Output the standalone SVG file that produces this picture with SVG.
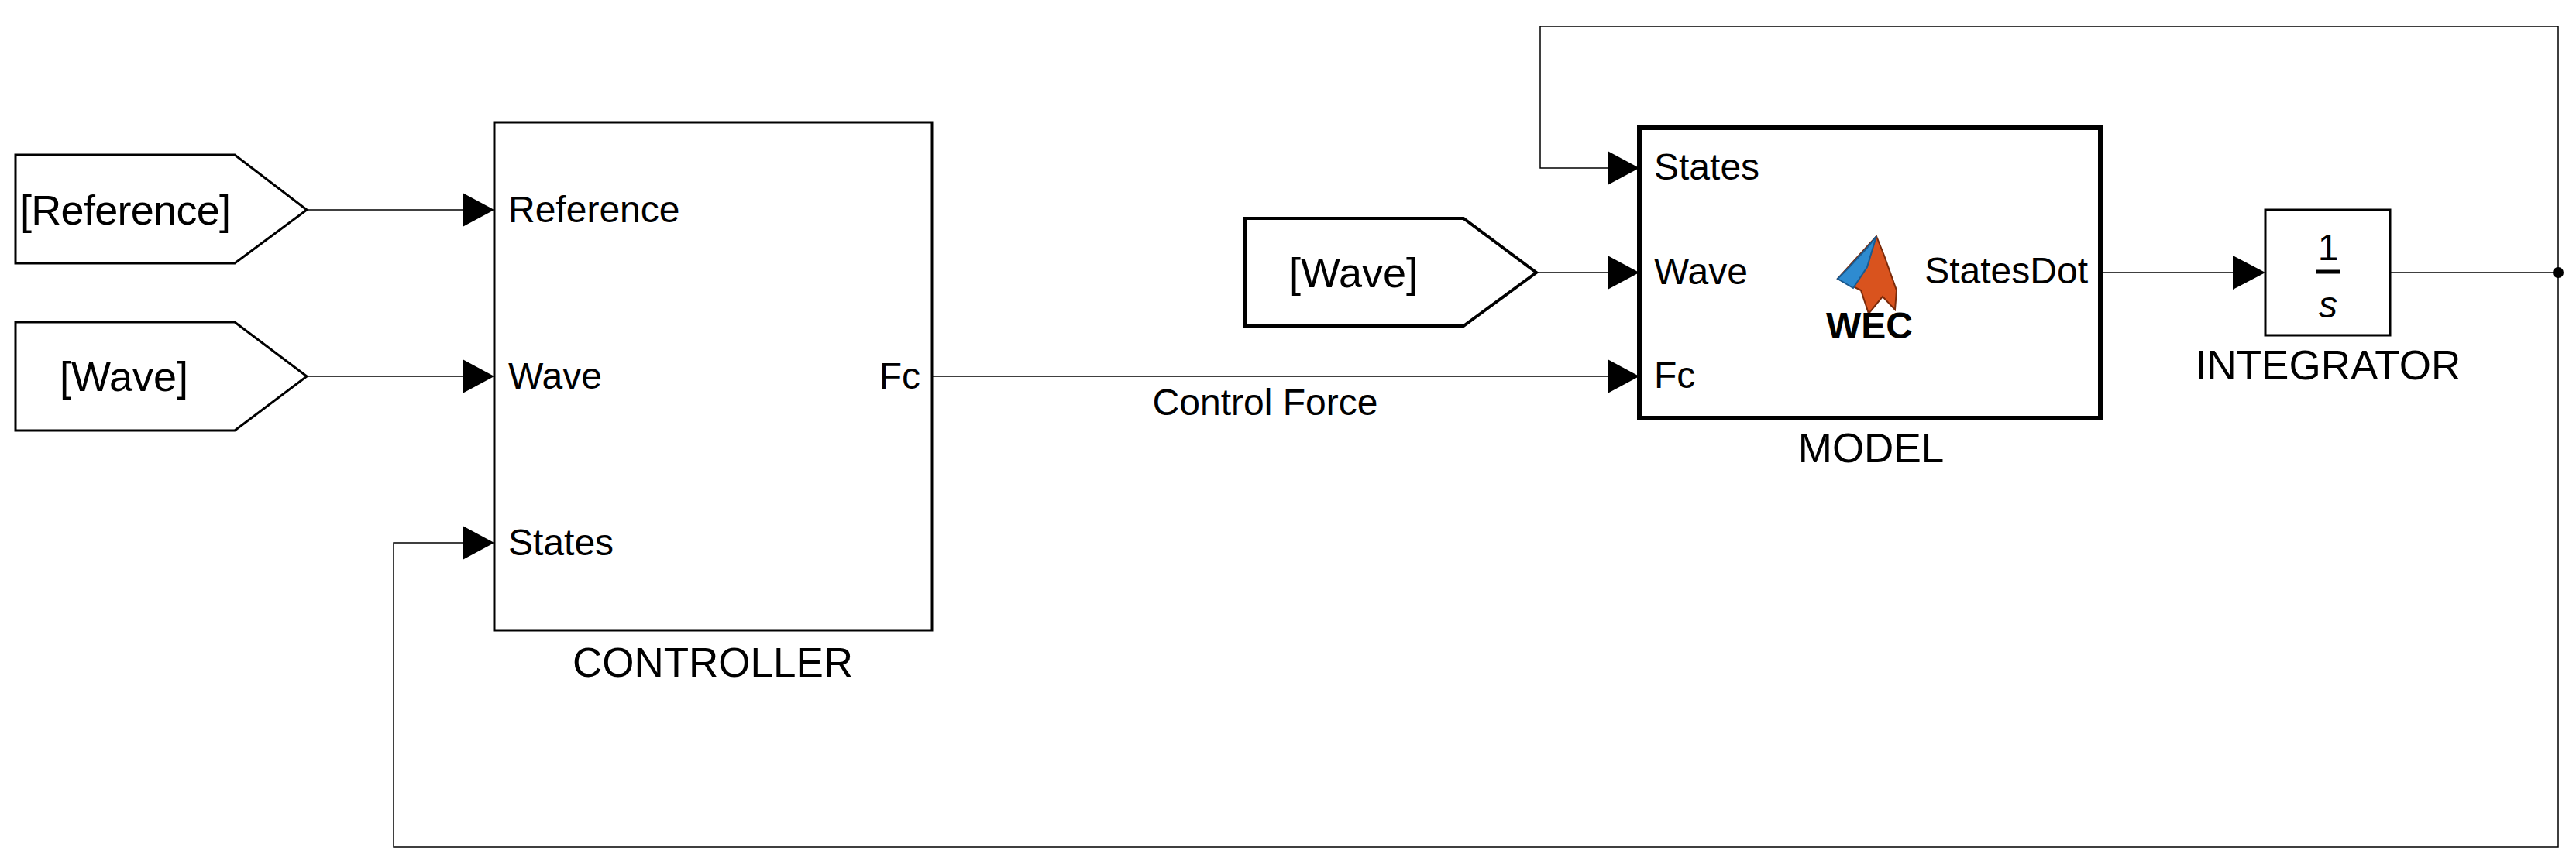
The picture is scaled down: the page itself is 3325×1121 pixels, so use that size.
<svg xmlns="http://www.w3.org/2000/svg" width="3325" height="1121" viewBox="0 0 3325 1121">
<style>
text{font-family:"Liberation Sans",Arial,sans-serif;font-size:48px;fill:#000}
.blk{fill:#fff;stroke:#000;stroke-width:3}
.thick{fill:#fff;stroke:#000;stroke-width:6}
.ln{fill:none;stroke:#000;stroke-width:1.5}
.arr{fill:#000}
.lbl{font-size:53px;text-anchor:middle}
.tag{font-size:54px;text-anchor:middle}
</style>
<g id="connectors">
<line class="ln" x1="396" y1="271" x2="600" y2="271"/>
<line class="ln" x1="396" y1="486" x2="600" y2="486"/>
<polyline class="ln" points="3302,352 3302,1094 508,1094 508,701 600,701"/>
<polyline class="ln" points="3302,352 3302,34 1988,34 1988,217 2078,217"/>
<line class="ln" x1="1203" y1="486" x2="2078" y2="486"/>
<line class="ln" x1="1983" y1="352" x2="2078" y2="352"/>
<line class="ln" x1="2711" y1="352" x2="2885" y2="352"/>
<line class="ln" x1="3085" y1="352" x2="3302" y2="352"/>
<circle cx="3302" cy="352" r="7" fill="#000"/>
<polygon class="arr" points="597,249 638,271 597,293"/>
<polygon class="arr" points="597,464 638,486 597,508"/>
<polygon class="arr" points="597,679 638,701 597,723"/>
<polygon class="arr" points="2075,195 2116,217 2075,239"/>
<polygon class="arr" points="2075,330 2116,352 2075,374"/>
<polygon class="arr" points="2075,464 2116,486 2075,508"/>
<polygon class="arr" points="2882,330 2924,352 2882,374"/>
<text x="1633" y="536" text-anchor="middle">Control Force</text>
</g>
<g id="tag-reference">
<polygon class="blk" points="20,200 303,200 396,271 303,340 20,340"/>
<text class="tag" x="162" y="290" textLength="272">[Reference]</text>
</g>
<g id="tag-wave1">
<polygon class="blk" points="20,416 303,416 396,486 303,556 20,556"/>
<text class="tag" x="160" y="505">[Wave]</text>
</g>
<g id="controller">
<rect class="blk" x="638" y="158" width="565" height="656"/>
<text x="656" y="287">Reference</text>
<text x="656" y="502">Wave</text>
<text x="656" y="717">States</text>
<text x="1188" y="502" text-anchor="end">Fc</text>
<text class="lbl" x="920" y="874">CONTROLLER</text>
</g>
<g id="tag-wave2">
<polygon class="thick" style="stroke-width:4" points="1607,282 1889,282 1983,352 1889,421 1607,421"/>
<text class="tag" x="1747" y="371">[Wave]</text>
</g>
<g id="model">
<rect class="thick" x="2116" y="165" width="595" height="375"/>
<text x="2135" y="232">States</text>
<text x="2135" y="367">Wave</text>
<text x="2135" y="501">Fc</text>
<text x="2695" y="366" text-anchor="end">StatesDot</text>
<path d="M2372,360 L2392,338 L2422,305 L2432,330 L2448,375 L2446,400 L2430,383 L2412,405 L2402,375 Z" fill="#d9531e" stroke="#7a2a0a" stroke-width="2"/>
<path d="M2372,360 L2386,346 L2410,320 L2422,305 L2410,345 L2392,372 Z" fill="#2e8bd0" stroke="#1a5a90" stroke-width="2"/>
<text x="2413" y="437" font-weight="bold" font-size="56" text-anchor="middle">WEC</text>
<text class="lbl" x="2415" y="597">MODEL</text>
</g>
<g id="integrator">
<rect class="blk" x="2924" y="271" width="161" height="162"/>
<text x="3005" y="336" font-family="Liberation Serif,serif" font-size="84" text-anchor="middle">1</text>
<line x1="2990" y1="351" x2="3020" y2="351" stroke="#000" stroke-width="5"/>
<text x="3005" y="410" font-family="Liberation Serif,serif" font-style="italic" font-size="84" text-anchor="middle">s</text>
<text class="lbl" x="3005" y="490">INTEGRATOR</text>
</g>
</svg>
